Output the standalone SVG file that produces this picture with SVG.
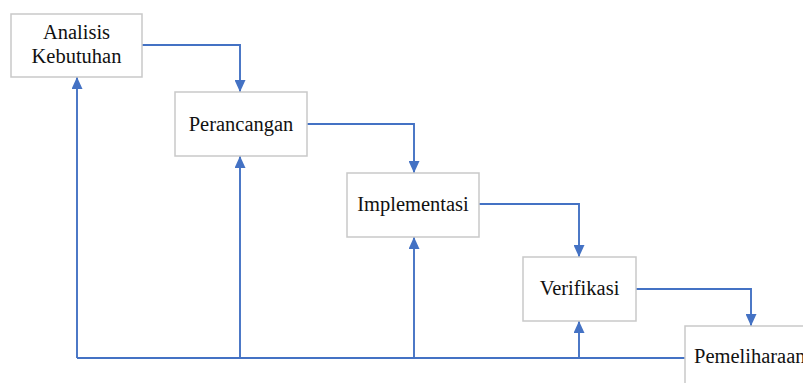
<svg xmlns="http://www.w3.org/2000/svg" width="803" height="383" viewBox="0 0 803 383">
<style>
.box{fill:#fff;stroke:#c9c9c9;stroke-width:1.5}
.lbl{font-family:"Liberation Serif","Times New Roman",serif;font-size:20.5px;fill:#111;text-anchor:middle}
.ln{fill:none;stroke:#4472c4;stroke-width:1.9}
</style>
<defs>
<marker id="ah" viewBox="0 0 12 11" refX="12" refY="5.5" markerWidth="12" markerHeight="11" markerUnits="userSpaceOnUse" orient="auto">
<path d="M0,0 L12,5.5 L0,11 Z" fill="#4472c4"/>
</marker>
</defs>
<rect width="803" height="383" fill="#fff"/>
<g id="connectors">
<path class="ln" d="M142,45 H240 V92" marker-end="url(#ah)"/>
<path class="ln" d="M307,124 H414 V173" marker-end="url(#ah)"/>
<path class="ln" d="M479,204 H579 V257" marker-end="url(#ah)"/>
<path class="ln" d="M636,289 H751 V326" marker-end="url(#ah)"/>
<path class="ln" d="M685,358 H77"/>
<path class="ln" d="M77,358 V77" marker-end="url(#ah)"/>
<path class="ln" d="M240,358 V156" marker-end="url(#ah)"/>
<path class="ln" d="M414,358 V237" marker-end="url(#ah)"/>
<path class="ln" d="M579,358 V321" marker-end="url(#ah)"/>
</g>
<g id="analisis">
<rect class="box" x="11" y="14" width="131" height="63"/>
<text class="lbl" x="76.5" y="39">Analisis</text>
<text class="lbl" x="76.5" y="63">Kebutuhan</text>
</g>
<g id="perancangan">
<rect class="box" x="175" y="92" width="132" height="64"/>
<text class="lbl" x="241" y="131">Perancangan</text>
</g>
<g id="implementasi">
<rect class="box" x="347" y="173" width="132" height="64"/>
<text class="lbl" x="413" y="211">Implementasi</text>
</g>
<g id="verifikasi">
<rect class="box" x="523" y="257" width="113" height="64"/>
<text class="lbl" x="579.5" y="295">Verifikasi</text>
</g>
<g id="pemeliharaan">
<rect class="box" x="685" y="326" width="140" height="70"/>
<text class="lbl" x="694" y="363" style="text-anchor:start">Pemeliharaan</text>
</g>
</svg>
